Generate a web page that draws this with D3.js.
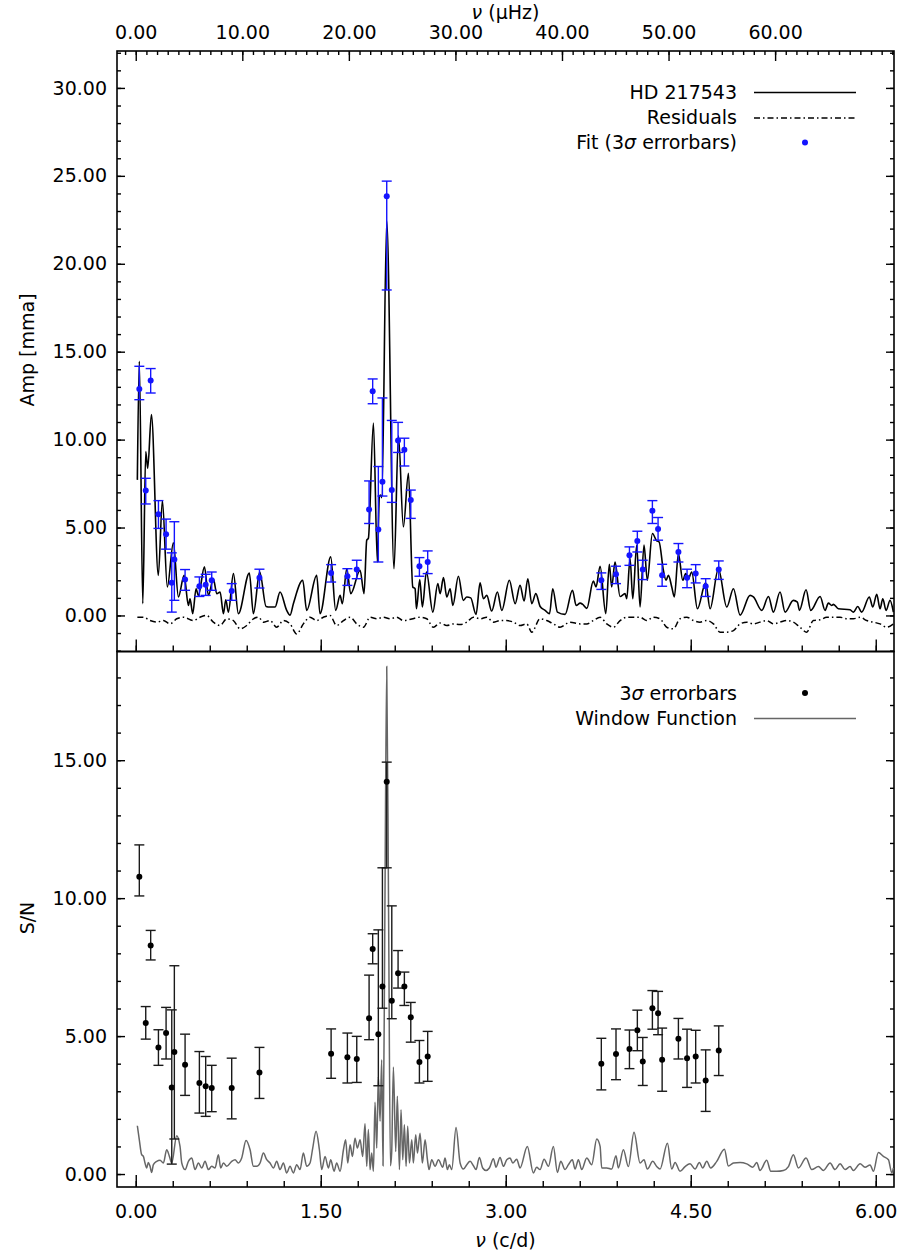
<!DOCTYPE html>
<html>
<head>
<meta charset="utf-8">
<script src="https://cdn.jsdelivr.net/npm/d3@7"></script>
<style>
  body { margin: 0; background: #fff; }
  svg text { font-family: "DejaVu Sans", sans-serif; font-size: 19px; fill: #000; }
</style>
</head>
<body>
<main></main>
<script>
// ---- amplitude spectrum of HD 217543 (c/d, mma)
const specFreq = [0.013,0.029,0.057,0.081,0.097,0.127,0.183,0.216,0.256,0.305,0.346,0.392,0.427,0.440,0.462,0.489,0.508,0.557,0.589,0.629,0.657,0.684,0.711,0.730,0.751,0.792,0.832,0.921,0.954,1.005,1.057,1.089,1.130,1.170,1.224,1.251,1.278,1.354,1.386,1.467,1.494,1.581,1.621,1.657,1.675,1.711,1.743,1.819,1.851,1.873,1.886,1.927,1.959,1.975,1.986,1.995,2.035,2.094,2.130,2.170,2.211,2.246,2.265,2.276,2.303,2.324,2.357,2.409,2.449,2.468,2.495,2.522,2.549,2.571,2.616,2.656,2.684,2.716,2.759,2.792,2.819,2.846,2.886,2.932,2.968,3.029,3.076,3.116,3.149,3.179,3.211,3.244,3.279,3.319,3.355,3.381,3.419,3.481,3.541,3.571,3.603,3.624,3.657,3.710,3.732,3.765,3.811,3.840,3.859,3.886,3.927,3.967,3.981,4.008,4.030,4.062,4.089,4.121,4.148,4.189,4.224,4.243,4.278,4.300,4.319,4.346,4.367,4.400,4.435,4.459,4.481,4.508,4.554,4.621,4.657,4.724,4.792,4.846,4.900,4.981,5.008,5.076,5.130,5.170,5.224,5.265,5.332,5.365,5.381,5.435,5.473,5.549,5.589,5.616,5.643,5.657,5.697,5.792,5.819,5.854,5.886,5.948,5.976,6.008,6.035,6.057,6.084,6.116,6.143];
const specAmp = [7.71,14.46,0.67,9.32,8.37,11.42,2.28,6.53,1.62,4.13,1.05,2.28,0.57,0.95,0.10,1.52,1.14,2.76,1.14,2.09,1.24,1.33,0.10,0.89,0.19,2.38,0.10,2.41,0.10,2.47,0.51,0.48,0.48,1.33,0.29,0.02,0.67,2.00,0.29,2.28,0.10,3.33,0.29,1.14,0.67,2.66,1.24,2.57,1.24,4.28,4.38,10.94,3.04,6.75,6.85,6.70,22.45,2.66,10.22,5.04,8.09,1.62,1.52,0.38,2.04,0.48,2.47,0.19,1.81,1.24,2.15,1.05,1.52,0.57,2.23,0.86,1.05,1.00,0.06,1.85,0.95,1.14,0.25,1.33,0.29,2.00,0.67,1.71,0.82,2.09,0.67,1.24,0.51,0.29,0.10,1.52,0.19,0.06,1.43,0.57,0.70,0.63,0.40,1.95,1.62,2.80,0.10,2.91,1.62,3.04,1.08,1.24,0.95,3.23,0.95,4.00,0.48,4.00,2.00,4.66,4.24,4.19,2.57,2.00,2.28,1.62,1.05,3.52,2.00,2.38,2.09,2.47,0.38,1.85,0.38,2.66,0.48,1.52,0.02,1.14,1.05,0.29,1.08,0.19,1.33,0.19,0.86,0.76,0.29,1.46,0.29,1.08,0.29,0.70,0.57,0.63,0.38,0.32,0.19,0.51,0.19,1.05,0.48,1.20,0.38,0.95,0.29,0.86,0.19];

// ---- residuals after prewhitening
const resFreq = [0.013,0.062,0.116,0.170,0.224,0.278,0.332,0.386,0.467,0.521,0.575,0.629,0.684,0.738,0.792,0.846,0.900,0.954,0.995,1.035,1.089,1.143,1.197,1.251,1.305,1.359,1.413,1.467,1.521,1.575,1.629,1.684,1.738,1.792,1.846,1.900,1.954,2.008,2.062,2.116,2.170,2.238,2.305,2.359,2.413,2.467,2.522,2.576,2.630,2.684,2.738,2.792,2.846,2.900,2.954,3.008,3.062,3.116,3.170,3.211,3.278,3.332,3.386,3.440,3.521,3.603,3.657,3.711,3.765,3.819,3.873,3.927,3.981,4.035,4.089,4.143,4.197,4.251,4.305,4.359,4.413,4.467,4.521,4.575,4.630,4.684,4.738,4.792,4.846,4.900,4.954,5.008,5.062,5.116,5.170,5.224,5.278,5.332,5.386,5.440,5.494,5.549,5.603,5.657,5.711,5.765,5.819,5.873,5.927,5.981,6.035,6.089,6.143];
const resAmp = [-0.10,-0.10,-0.29,-0.38,-0.29,-0.48,-0.19,-0.10,-0.29,-0.10,0.00,-0.38,-0.57,-0.19,-0.29,-0.76,-0.57,-0.19,-0.10,-0.38,-0.29,-0.67,-0.29,-0.48,-1.05,-0.48,-0.10,-0.29,-0.10,0.00,-0.57,-0.29,-0.10,-0.48,-0.67,-0.10,-0.19,-0.10,-0.19,-0.10,-0.29,-0.20,-0.10,-0.19,-0.67,-0.43,-0.57,-0.48,-0.52,-0.38,-0.10,-0.19,-0.10,-0.38,-0.29,-0.29,-0.38,-0.57,-0.48,-0.95,-0.19,-0.29,-0.48,-0.67,-0.38,-0.48,-0.48,-0.29,-0.10,-0.48,-0.67,-0.29,-0.10,-0.10,-0.10,-0.29,-0.10,-0.19,-0.67,-0.76,-0.19,-0.10,-0.29,-0.38,-0.29,-0.48,-0.95,-0.95,-0.86,-0.48,-0.38,-0.48,-0.38,-0.29,-0.48,-0.38,-0.29,-0.38,-0.67,-0.95,-0.29,-0.25,-0.10,-0.10,-0.10,-0.19,-0.19,-0.10,-0.29,-0.38,-0.48,-0.67,-0.48];

// ---- fitted frequencies, amplitudes with 3 sigma limits (mma)
const fitFreq = [0.029,0.081,0.121,0.184,0.246,0.292,0.313,0.400,0.516,0.567,0.616,0.778,1.003,1.584,1.716,1.792,1.892,1.921,1.967,2.000,2.035,2.076,2.127,2.178,2.230,2.300,2.367,3.775,3.894,4.003,4.067,4.111,4.189,4.235,4.268,4.400,4.470,4.540,4.621,4.727];
const fitAmp = [12.88,7.10,13.36,5.76,4.62,1.86,3.18,2.04,1.66,1.75,2.00,1.39,2.15,2.42,2.23,2.61,6.03,12.75,4.89,7.61,23.84,7.13,9.95,9.42,6.56,2.80,3.04,2.00,2.34,3.42,4.24,2.61,5.96,4.91,2.28,3.61,2.15,2.38,1.66,2.61];
const fitHi = [14.17,7.80,14.04,6.53,5.48,3.56,5.33,2.61,2.19,2.34,2.47,1.81,2.63,2.89,2.66,3.14,7.65,13.45,8.47,12.37,24.70,11.09,10.98,10.08,7.13,3.29,3.67,2.42,2.80,3.90,4.79,3.14,6.53,5.57,2.91,4.09,2.63,2.89,2.09,3.10];
const fitLo = [12.27,6.34,12.65,4.95,3.77,0.19,0.86,1.43,1.08,1.14,1.43,0.86,1.56,1.90,1.71,2.09,5.23,12.04,3.04,6.79,18.51,6.43,9.27,8.50,5.52,2.23,2.38,1.48,1.81,2.85,3.61,2.04,5.23,4.28,1.66,3.04,1.58,1.85,1.08,2.05];

// ---- signal to noise of the same frequencies
const snVal = [10.78,5.47,8.28,4.59,5.11,3.14,4.42,3.96,3.30,3.18,3.12,3.12,3.68,4.36,4.23,4.17,5.65,8.16,5.07,6.80,14.22,6.28,7.28,6.80,5.68,4.06,4.26,4.00,4.35,4.53,5.21,4.08,6.01,5.83,4.14,4.90,4.20,4.26,3.39,4.48];
const snHi = [11.93,6.07,8.83,5.23,6.04,5.95,7.55,5.07,4.44,4.26,3.94,4.20,4.59,5.26,5.11,4.99,7.21,8.71,8.85,11.10,14.93,9.72,8.10,7.32,6.22,4.84,5.17,4.92,5.26,5.22,5.94,4.95,6.65,6.62,5.29,5.64,5.25,5.21,4.50,5.37];
const snLo = [10.08,4.89,7.76,3.94,4.17,0.36,1.27,2.85,2.21,2.09,2.26,2.00,2.74,3.47,3.30,3.32,4.87,7.62,3.20,6.01,11.10,5.63,6.74,6.11,4.78,3.30,3.36,3.05,3.42,3.82,4.47,3.21,5.25,5.05,3.00,4.17,3.14,3.30,2.27,3.57];

// ---- window function centred on the main peak
const winFreq = [0.013,0.029,0.048,0.062,0.075,0.089,0.102,0.116,0.129,0.143,0.170,0.197,0.224,0.251,0.273,0.292,0.332,0.359,0.373,0.400,0.427,0.454,0.481,0.508,0.535,0.562,0.589,0.616,0.643,0.670,0.689,0.711,0.738,0.778,0.805,0.832,0.859,0.894,0.927,0.954,0.981,1.008,1.035,1.062,1.089,1.116,1.143,1.170,1.197,1.224,1.251,1.278,1.305,1.332,1.359,1.386,1.413,1.435,1.462,1.489,1.508,1.535,1.562,1.581,1.608,1.629,1.657,1.684,1.702,1.719,1.738,1.757,1.778,1.797,1.819,1.840,1.859,1.873,1.886,1.900,1.913,1.927,1.940,1.954,1.967,1.981,1.994,2.005,2.020,2.035,2.050,2.065,2.075,2.089,2.108,2.121,2.138,2.151,2.165,2.178,2.192,2.205,2.219,2.238,2.251,2.270,2.284,2.305,2.324,2.346,2.365,2.378,2.400,2.427,2.454,2.489,2.508,2.527,2.543,2.562,2.597,2.630,2.657,2.684,2.711,2.738,2.759,2.786,2.813,2.840,2.867,2.900,2.921,2.954,2.981,3.008,3.035,3.057,3.089,3.116,3.175,3.224,3.251,3.278,3.311,3.346,3.386,3.419,3.446,3.481,3.508,3.540,3.562,3.589,3.616,3.657,3.697,3.738,3.765,3.778,3.819,3.859,3.894,3.913,3.954,3.994,4.040,4.089,4.121,4.148,4.192,4.224,4.251,4.311,4.346,4.373,4.413,4.454,4.494,4.535,4.570,4.597,4.630,4.662,4.711,4.773,4.805,4.846,4.900,4.954,5.003,5.035,5.062,5.116,5.149,5.197,5.251,5.292,5.332,5.373,5.435,5.481,5.535,5.576,5.630,5.670,5.711,5.751,5.792,5.819,5.873,5.913,5.954,5.981,6.021,6.062,6.103,6.130,6.143];
const winAmp = [1.75,1.24,0.70,0.64,0.40,0.22,0.42,0.28,0.06,0.34,0.46,0.50,0.40,0.88,0.64,0.40,1.39,1.00,0.40,0.16,0.46,0.58,0.16,0.40,0.22,0.46,0.16,0.28,0.22,0.70,0.22,0.40,0.28,0.46,0.52,0.40,0.58,1.22,0.88,0.28,0.28,0.40,0.76,0.52,0.40,0.22,0.46,0.16,0.40,0.04,0.28,0.04,0.34,0.16,0.76,0.28,0.40,0.94,1.55,0.88,0.16,0.64,0.22,0.52,0.10,0.40,0.10,0.88,1.24,0.40,1.06,0.64,1.30,0.94,1.24,0.64,1.82,0.28,1.61,0.16,0.76,0.10,2.60,0.94,3.54,1.91,4.14,0.30,9.50,18.40,9.50,0.30,0.76,3.88,0.82,2.82,0.16,2.33,0.52,1.79,0.28,1.73,0.40,1.24,0.40,1.42,0.76,1.48,0.40,1.24,0.52,0.16,0.52,0.28,0.52,0.25,0.58,0.16,0.34,0.16,1.69,0.40,0.18,0.34,0.46,0.30,0.16,0.60,0.22,0.13,0.22,0.55,0.25,0.60,0.28,0.52,0.58,0.40,0.54,0.22,1.00,0.04,0.25,0.16,0.54,0.28,1.00,0.06,0.46,0.16,0.34,0.52,0.18,0.52,0.16,0.58,0.34,1.27,1.00,0.22,0.22,0.18,0.66,0.22,0.88,0.27,1.51,0.40,0.52,0.18,0.46,0.27,0.18,1.12,0.18,0.42,0.10,0.27,0.37,0.18,0.42,0.22,0.46,0.22,0.46,0.90,0.29,0.40,0.42,0.37,0.25,0.42,0.13,0.50,0.10,0.10,0.13,0.27,0.70,0.22,0.58,0.16,0.27,0.13,0.40,0.16,0.37,0.16,0.27,0.13,0.37,0.25,0.33,0.10,0.78,0.64,0.52,0.04,0.22];

// ---- ticks
const cdTicks = [0, 1.5, 3, 4.5, 6];
const muHzTicks = [0, 10, 20, 30, 40, 50, 60];
const ampTicks = [0, 5, 10, 15, 20, 25, 30];
const snTicks = [0, 5, 10, 15];

const width = 902;
const height = 1257;
const pLeft = 117, pRight = 894, pTop = 51, pMid = 651.5, pBottom = 1187;
const muHzPerCd = 1e6 / 86400;
const blue = '#1414ff';
const f2 = d3.format('.2f');

const x = d3.scaleLinear().domain([-0.152, 6.148]).range([pLeft, pRight]);
const xMu = d3.scaleLinear().domain(x.domain().map(d => d * muHzPerCd)).range([pLeft, pRight]);
const yTop = d3.scaleLinear().domain([-2.05, 32.1]).range([pMid, pTop]);
const yBot = d3.scaleLinear().domain([-0.47, 18.94]).range([pBottom, pMid]);

const svg = d3.select('main')
  .append('svg')
  .attr('width', width)
  .attr('height', height)

svg.append('defs').append('clipPath').attr('id', 'clip')
  .append('rect')
  .attr('x', pLeft).attr('y', pTop)
  .attr('width', pRight - pLeft).attr('height', pBottom - pTop)

const steps = (a, b, s) => d3.range(Math.round(a / s), Math.round(b / s) + 1).map(i => +(i * s).toFixed(4));

function styleAxis(g) {
  g.select('.domain').remove();
  g.selectAll('line').attr('stroke', '#000').attr('stroke-width', 1.4);
}

// ---- top panel axes
svg.append('g').attr('transform', `translate(${pLeft},0)`)
  .call(d3.axisLeft(yTop).tickValues(steps(-2, 32, 1)).tickFormat('').tickSizeInner(-4).tickSizeOuter(0)).call(styleAxis)
svg.append('g').attr('transform', `translate(${pLeft},0)`)
  .call(d3.axisLeft(yTop).tickValues(ampTicks).tickFormat(f2).tickSizeInner(-8).tickSizeOuter(0).tickPadding(10)).call(styleAxis)
svg.append('g').attr('transform', `translate(${pRight},0)`)
  .call(d3.axisRight(yTop).tickValues(steps(-2, 32, 1)).tickFormat('').tickSizeInner(-4).tickSizeOuter(0)).call(styleAxis)
svg.append('g').attr('transform', `translate(${pRight},0)`)
  .call(d3.axisRight(yTop).tickValues(ampTicks).tickFormat('').tickSizeInner(-8).tickSizeOuter(0)).call(styleAxis)

// top: muHz
svg.append('g').attr('transform', `translate(0,${pTop})`)
  .call(d3.axisTop(xMu).tickValues(steps(-1, 71, 1)).tickFormat('').tickSizeInner(-4).tickSizeOuter(0)).call(styleAxis)
svg.append('g').attr('transform', `translate(0,${pTop})`)
  .call(d3.axisTop(xMu).tickValues(muHzTicks).tickFormat(f2).tickSizeInner(-10).tickSizeOuter(0).tickPadding(12)).call(styleAxis)

// shared edge: c/d ticks pointing up into the top panel
svg.append('g').attr('transform', `translate(0,${pMid})`)
  .call(d3.axisBottom(x).tickValues(steps(-0.15, 6.15, 0.3)).tickFormat('').tickSizeInner(-6).tickSizeOuter(0)).call(styleAxis)
svg.append('g').attr('transform', `translate(0,${pMid})`)
  .call(d3.axisBottom(x).tickValues(cdTicks).tickFormat('').tickSizeInner(-12).tickSizeOuter(0)).call(styleAxis)

// ---- bottom panel axes
svg.append('g').attr('transform', `translate(${pLeft},0)`)
  .call(d3.axisLeft(yBot).tickValues(steps(0, 18, 1)).tickFormat('').tickSizeInner(-4).tickSizeOuter(0)).call(styleAxis)
svg.append('g').attr('transform', `translate(${pLeft},0)`)
  .call(d3.axisLeft(yBot).tickValues(snTicks).tickFormat(f2).tickSizeInner(-8).tickSizeOuter(0).tickPadding(10)).call(styleAxis)
svg.append('g').attr('transform', `translate(${pRight},0)`)
  .call(d3.axisRight(yBot).tickValues(steps(0, 18, 1)).tickFormat('').tickSizeInner(-4).tickSizeOuter(0)).call(styleAxis)
svg.append('g').attr('transform', `translate(${pRight},0)`)
  .call(d3.axisRight(yBot).tickValues(snTicks).tickFormat('').tickSizeInner(-8).tickSizeOuter(0)).call(styleAxis)
svg.append('g').attr('transform', `translate(0,${pBottom})`)
  .call(d3.axisBottom(x).tickValues(steps(-0.15, 6.15, 0.3)).tickFormat('').tickSizeInner(-6).tickSizeOuter(0)).call(styleAxis)
svg.append('g').attr('transform', `translate(0,${pBottom})`)
  .call(d3.axisBottom(x).tickValues(cdTicks).tickFormat(f2).tickSizeInner(-12).tickSizeOuter(0).tickPadding(18)).call(styleAxis)

svg.selectAll('.tick text').style('font-size', '19px').style('font-family', '"DejaVu Sans", sans-serif')

// ---- frames
svg.append('rect').attr('x', pLeft).attr('y', pTop).attr('width', pRight - pLeft).attr('height', pMid - pTop)
  .attr('fill', 'none').attr('stroke', '#000').attr('stroke-width', 1.6)
svg.append('rect').attr('x', pLeft).attr('y', pMid).attr('width', pRight - pLeft).attr('height', pBottom - pMid)
  .attr('fill', 'none').attr('stroke', '#000').attr('stroke-width', 1.6)

// ---- axis titles
svg.append('text').attr('x', (pLeft + pRight) / 2).attr('y', 19).attr('text-anchor', 'middle')
  .html('<tspan font-style="italic">ν</tspan> (μHz)')
svg.append('text').attr('x', (pLeft + pRight) / 2).attr('y', 1247).attr('text-anchor', 'middle')
  .html('<tspan font-style="italic">ν</tspan> (c/d)')
svg.append('text').attr('transform', 'translate(34,350) rotate(-90)').attr('text-anchor', 'middle').text('Amp [mma]')
svg.append('text').attr('transform', 'translate(34,918) rotate(-90)').attr('text-anchor', 'middle').text('S/N')

// ---- top panel data
const plot = svg.append('g').attr('clip-path', 'url(#clip)');

const specLine = d3.line().x(d => x(d[0])).y(d => yTop(d[1])).curve(d3.curveMonotoneX);
plot.append('path')
  .datum(d3.zip(resFreq, resAmp))
  .attr('d', specLine)
  .attr('fill', 'none').attr('stroke', '#000').attr('stroke-width', 1.5)
  .attr('stroke-dasharray', '6,3,1.5,3')
plot.append('path')
  .datum(d3.zip(specFreq, specAmp))
  .attr('d', specLine)
  .attr('fill', 'none').attr('stroke', '#000').attr('stroke-width', 1.6)

const fits = fitFreq.map((f, i) => ({ f, a: fitAmp[i], lo: fitLo[i], hi: fitHi[i] }));
const fitG = plot.append('g').selectAll('g').data(fits).enter().append('g').attr('stroke', blue).attr('stroke-width', 1.4)
fitG.append('line').attr('x1', d => x(d.f)).attr('x2', d => x(d.f)).attr('y1', d => yTop(d.lo)).attr('y2', d => yTop(d.hi))
fitG.append('line').attr('x1', d => x(d.f) - 5).attr('x2', d => x(d.f) + 5).attr('y1', d => yTop(d.lo)).attr('y2', d => yTop(d.lo))
fitG.append('line').attr('x1', d => x(d.f) - 5).attr('x2', d => x(d.f) + 5).attr('y1', d => yTop(d.hi)).attr('y2', d => yTop(d.hi))
fitG.append('circle').attr('cx', d => x(d.f)).attr('cy', d => yTop(d.a)).attr('r', 3).attr('fill', blue).attr('stroke', 'none')

// ---- bottom panel data
const winLine = d3.line().x(d => x(d[0])).y(d => yBot(d[1])).curve(d3.curveMonotoneX);
plot.append('path')
  .datum(d3.zip(winFreq, winAmp))
  .attr('d', winLine)
  .attr('fill', 'none').attr('stroke', '#666').attr('stroke-width', 1.5)

const sns = fitFreq.map((f, i) => ({ f, a: snVal[i], lo: snLo[i], hi: snHi[i] }));
const snG = plot.append('g').selectAll('g').data(sns).enter().append('g').attr('stroke', '#1a1a1a').attr('stroke-width', 1.4)
snG.append('line').attr('x1', d => x(d.f)).attr('x2', d => x(d.f)).attr('y1', d => yBot(d.lo)).attr('y2', d => yBot(d.hi))
snG.append('line').attr('x1', d => x(d.f) - 5).attr('x2', d => x(d.f) + 5).attr('y1', d => yBot(d.lo)).attr('y2', d => yBot(d.lo))
snG.append('line').attr('x1', d => x(d.f) - 5).attr('x2', d => x(d.f) + 5).attr('y1', d => yBot(d.hi)).attr('y2', d => yBot(d.hi))
snG.append('circle').attr('cx', d => x(d.f)).attr('cy', d => yBot(d.a)).attr('r', 3).attr('fill', '#000').attr('stroke', 'none')

// ---- legends
const legX = 737, lineX1 = 754, lineX2 = 856, dotX = 805;
svg.append('text').attr('x', legX).attr('y', 99).attr('text-anchor', 'end').text('HD 217543')
svg.append('line').attr('x1', lineX1).attr('x2', lineX2).attr('y1', 92.5).attr('y2', 92.5).attr('stroke', '#000').attr('stroke-width', 1.5)
svg.append('text').attr('x', legX).attr('y', 124).attr('text-anchor', 'end').text('Residuals')
svg.append('line').attr('x1', lineX1).attr('x2', lineX2).attr('y1', 118).attr('y2', 118).attr('stroke', '#000').attr('stroke-width', 1.5)
  .attr('stroke-dasharray', '6,3,1.5,3')
svg.append('text').attr('x', legX).attr('y', 149).attr('text-anchor', 'end')
  .html('Fit (3<tspan font-style="italic">σ</tspan> errorbars)')
svg.append('circle').attr('cx', dotX).attr('cy', 142.5).attr('r', 3).attr('fill', blue)

svg.append('text').attr('x', legX).attr('y', 700).attr('text-anchor', 'end')
  .html('3<tspan font-style="italic">σ</tspan> errorbars')
svg.append('circle').attr('cx', dotX).attr('cy', 693).attr('r', 3).attr('fill', '#000')
svg.append('text').attr('x', legX).attr('y', 725).attr('text-anchor', 'end').text('Window Function')
svg.append('line').attr('x1', lineX1).attr('x2', lineX2).attr('y1', 718.5).attr('y2', 718.5).attr('stroke', '#666').attr('stroke-width', 1.5)
</script>
</body>
</html>
